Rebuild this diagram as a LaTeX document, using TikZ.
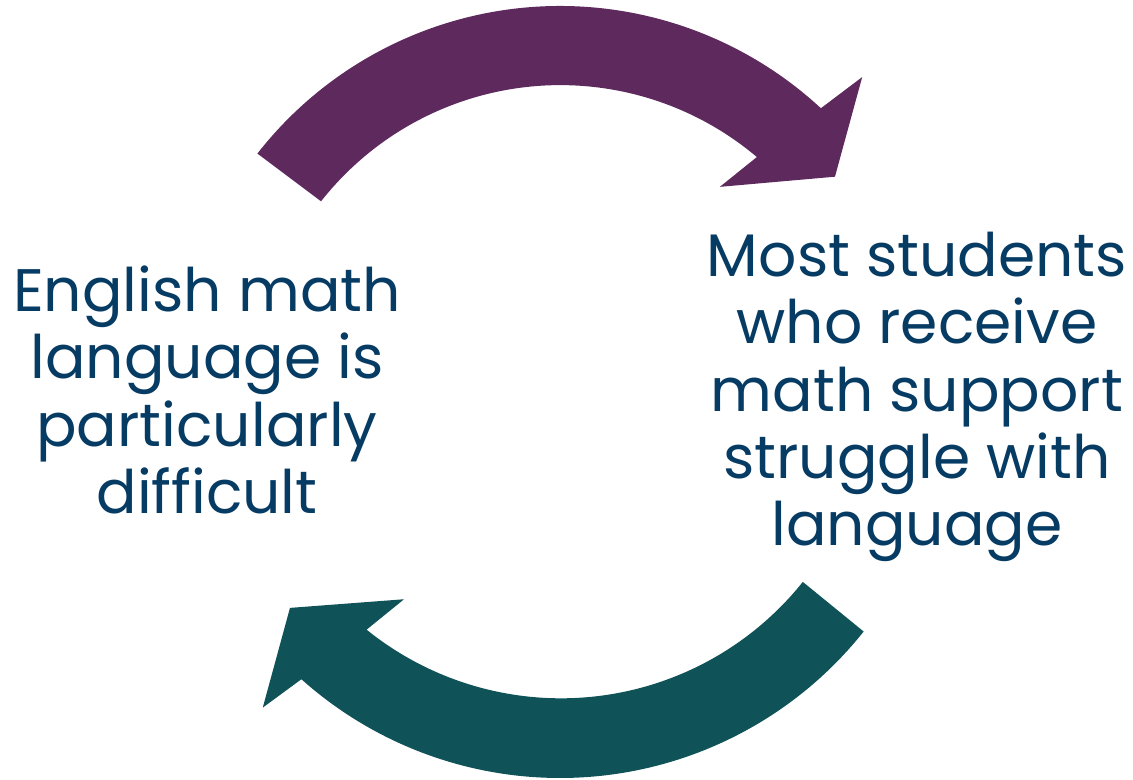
\documentclass[tikz,border=0pt]{standalone}
\usepackage{fontspec}
\setmainfont{Poppins}
\definecolor{arrowpurple}{HTML}{5E2A5E}
\definecolor{arrowteal}{HTML}{0F5257}
\definecolor{textblue}{HTML}{063B64}

\begin{document}
\begin{tikzpicture}[x=0.5pt, y=0.5pt,
		label text/.style={align=center, text=textblue, inner sep=0pt,
			font=\fontsize{30}{33.7}\selectfont}]
	\useasboundingbox (0,0) rectangle (1133,780);
	\coordinate (O) at (560,390);

	% upper arrow
	\fill[arrowpurple, shift={(O)}] (142:384) arc[start angle=142, end angle=47.2, radius=384]
		-- (46:435) -- (37.8:348) -- (51.8:258.5) -- (49.8:305)
		arc[start angle=49.8, end angle=141.8, radius=304.5] -- cycle;

	% lower arrow
	\fill[arrowteal, shift={(O)}] (-38.5:388) arc[start angle=-38.5, end angle=-131.8, radius=388]
		-- (-133.1:435) -- (-141.1:347) -- (-126.7:261) -- (-128.9:308)
		arc[start angle=-128.9, end angle=-38.6, radius=309.5] -- cycle;

	% texts
	\node[label text] (eng) at (207,390) {English math\\language is\\particularly\\difficult};
	\node[label text] (most) at (917,383) {Most students\\who receive\\math support\\struggle with\\language};
\end{tikzpicture}
\end{document}
